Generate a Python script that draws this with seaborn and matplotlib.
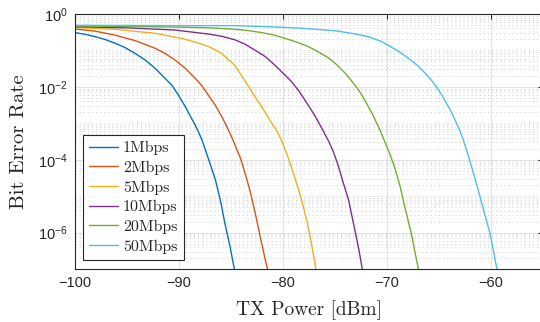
import numpy as np
import pandas as pd
import matplotlib
matplotlib.use("Agg")
import matplotlib.pyplot as plt
import matplotlib.ticker as mticker
import seaborn as sns

# ---- data ----
rates = ["1Mbps", "2Mbps", "5Mbps", "10Mbps", "20Mbps", "50Mbps"]
colors = ["#0072BD", "#D95319", "#EDB120", "#7E2F8E", "#77AC30", "#4DBEEE"]

x_1m = [-100, -99.04, -98.08, -97.12, -96.15, -95.19, -94.23, -93.27, -92.3, -91.5, -90.7, -90.07,
        -89.4, -88.94, -88.46, -88.08, -87.8, -87.2, -86.5, -86.0, -85.6, -85.1, -84.7, -84.5]
ber_1m = [0.309, 0.277, 0.240, 0.200, 0.158, 0.120, 0.0832, 0.0550, 0.0324, 0.0191, 0.0112, 6.03e-3,
          2.88e-3, 1.62e-3, 9.12e-4, 5.37e-4, 3.55e-4, 1.12e-4, 2.82e-5, 7.24e-6, 1.86e-6, 4.27e-7, 1.07e-7, 5.6e-8]

x_2m = [-100, -98.08, -96.15, -94.23, -92.3, -91.35, -90.4, -89.4, -88.46, -87.8, -87.2, -86.5,
        -85.9, -85.4, -84.9, -84.1, -83.65, -83.2, -82.85, -82.5, -82.2, -81.85, -81.5, -81.3]
ber_2m = [0.389, 0.339, 0.263, 0.186, 0.115, 0.0832, 0.0550, 0.0324, 0.0174, 0.0107, 6.03e-3, 3.09e-3,
          1.55e-3, 8.13e-4, 3.98e-4, 1.12e-4, 4.27e-5, 1.51e-5, 5.75e-6, 2.04e-6, 7.94e-7, 2.75e-7, 1.02e-7, 5.6e-8]

x_5m = [-100, -96.15, -92.3, -89.74, -88.46, -87.18, -85.9, -84.6, -83.97, -83.3, -82.7, -82.05,
        -81.57, -81.1, -80.6, -80.1, -79.55, -79.0, -78.5, -78.05, -77.7, -77.4, -77.1, -76.86, -76.7]
ber_5m = [0.427, 0.380, 0.295, 0.214, 0.170, 0.129, 0.0832, 0.0380, 0.0200, 0.0102, 5.37e-3, 2.88e-3,
          1.70e-3, 1.02e-3, 6.31e-4, 3.16e-4, 1.26e-4, 4.27e-5, 1.51e-5, 5.25e-6, 2.04e-6, 7.94e-7, 2.75e-7, 1.07e-7, 5.6e-8]

x_10m = [-100, -95, -90.4, -87.18, -85.9, -84.6, -83.65, -82.7, -81.7, -80.8, -79.97, -79.2, -78.5,
         -77.9, -77.4, -76.9, -76.3, -75.6, -75.16, -74.7, -74.2, -73.7, -73.4, -73.1, -72.7, -72.4, -72.2]
ber_10m = [0.447, 0.417, 0.363, 0.282, 0.245, 0.195, 0.148, 0.102, 0.0676, 0.0398, 0.0234, 0.0141, 7.94e-3,
           4.37e-3, 2.63e-3, 1.55e-3, 7.59e-4, 3.16e-4, 1.66e-4, 7.08e-5, 2.29e-5, 7.94e-6, 3.09e-6, 1.20e-6,
           3.39e-7, 1.07e-7, 5.6e-8]

x_20m = [-100, -95, -90, -87, -84.6, -83.3, -82.05, -80.9, -79.8, -78.7, -77.6, -76.6, -75.6, -74.8,
         -74.0, -73.4, -72.75, -72.3, -71.8, -71.4, -71.0, -70.7, -70.35, -69.7, -69.2, -68.75, -68.3,
         -67.95, -67.6, -67.3, -67.0, -66.8]
ber_20m = [0.468, 0.457, 0.437, 0.417, 0.380, 0.349, 0.309, 0.266, 0.214, 0.170, 0.129, 0.0912, 0.0617, 0.0398,
           0.0234, 0.0145, 8.32e-3, 5.25e-3, 2.88e-3, 1.78e-3, 1.02e-3, 6.76e-4, 3.89e-4, 1.38e-4, 5.37e-5,
           1.91e-5, 5.25e-6, 2.04e-6, 7.94e-7, 2.75e-7, 1.07e-7, 5.6e-8]

x_50m = [-100, -90, -84.6, -81.4, -78.2, -75.0, -73.4, -71.8, -70.5, -69.2, -68.4, -67.6, -67.0,
         -66.35, -65.7, -65.2, -64.75, -64.3, -63.85, -63.5, -63.05, -62.7, -62.2, -61.7, -61.3, -60.9,
         -60.5, -60.1, -59.8, -59.45, -59.3]
ber_50m = [0.490, 0.479, 0.479, 0.447, 0.407, 0.347, 0.295, 0.240, 0.174, 0.107, 0.0759, 0.0513, 0.0372,
           0.0240, 0.0148, 9.55e-3, 6.03e-3, 3.63e-3, 2.14e-3, 1.32e-3, 6.76e-4, 3.80e-4, 1.32e-4, 4.47e-5,
           1.74e-5, 6.61e-6, 2.51e-6, 9.55e-7, 3.55e-7, 1.07e-7, 6.3e-8]

xticks = [-100, -90, -80, -70, -60]
yticks = [1e0, 1e-2, 1e-4, 1e-6]

series_x = [x_1m, x_2m, x_5m, x_10m, x_20m, x_50m]
series_y = [ber_1m, ber_2m, ber_5m, ber_10m, ber_20m, ber_50m]
df = pd.concat(
    [pd.DataFrame({"power": xs, "ber": ys, "rate": r}) for r, xs, ys in zip(rates, series_x, series_y)],
    ignore_index=True,
)

# ---- style ----
sns.set_theme(style="white")
plt.rcParams["font.family"] = ["Liberation Sans", "DejaVu Sans"]
plt.rcParams["mathtext.fontset"] = "custom"
plt.rcParams["mathtext.rm"] = "Liberation Sans"
plt.rcParams["mathtext.it"] = "Liberation Sans:italic"
plt.rcParams["mathtext.bf"] = "Liberation Sans:bold"
plt.rcParams["axes.unicode_minus"] = True

fig = plt.figure(figsize=(5.4, 3.22), dpi=100)
ax = fig.add_axes([75 / 540, 1 - 269 / 322, 468 / 540, 255 / 322])

sns.lineplot(data=df, x="power", y="ber", hue="rate", hue_order=rates,
             palette=dict(zip(rates, colors)), estimator=None, sort=False,
             linewidth=1.0, ax=ax)

ax.set_yscale("log")
ax.set_xlim(-100, -55)
ax.set_ylim(1e-7, 1e0)
ax.set_xticks(xticks)
ax.yaxis.set_major_locator(mticker.FixedLocator(yticks))
ax.yaxis.set_major_formatter(mticker.LogFormatterSciNotation())
ax.yaxis.set_minor_locator(mticker.LogLocator(base=10, subs=np.arange(1, 10), numticks=50))
ax.yaxis.set_minor_formatter(mticker.NullFormatter())

ax.grid(True, which="major", color="#dedede", linewidth=0.6, linestyle="-")
ax.grid(True, which="minor", axis="y", color="#cfcfcf", linewidth=0.6, linestyle=(0, (1.5, 3.4)))
ax.set_axisbelow(True)

for s in ax.spines.values():
    s.set_visible(True)
    s.set_color("#262626")
    s.set_linewidth(0.8)

ax.tick_params(which="both", direction="in", top=True, right=True, colors="#262626",
               labelcolor="#262626", labelsize=10.5)
ax.tick_params(which="major", length=3.5, width=0.8, pad=5)
ax.tick_params(which="minor", length=2.0, width=0.6)
ax.tick_params(axis="x", which="minor", bottom=False, top=False)

ax.set_xlabel("TX Power [dBm]", fontfamily="cmr10", fontsize=14, color="#262626")
ax.set_ylabel("Bit Error Rate", fontfamily="cmr10", fontsize=15, color="#262626")
ax.xaxis.set_label_coords(0.5, -0.121)
ax.yaxis.set_label_coords(-0.100, 0.5)

sns.move_legend(ax, "lower left", bbox_to_anchor=(0.017, 0.035), borderaxespad=0,
                title=None, frameon=True, fancybox=False, framealpha=1,
                edgecolor="#262626", prop={"family": "cmr10", "size": 11.5},
                handlelength=1.8, handletextpad=0.3, labelspacing=0.34, borderpad=0.4)
leg = ax.get_legend()
leg.get_frame().set_linewidth(0.8)

fig.savefig("out.png", dpi=100)
